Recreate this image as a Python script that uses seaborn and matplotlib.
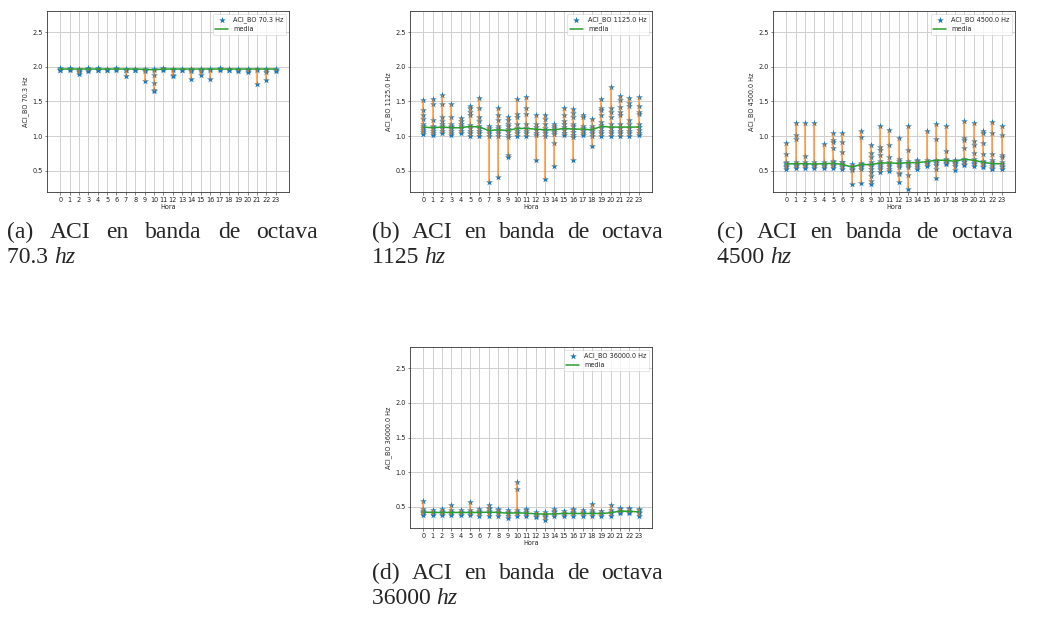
import matplotlib
matplotlib.use("Agg")
import matplotlib.pyplot as plt
import numpy as np
import pandas as pd
import seaborn as sns

# ---------------------------------------------------------------------------
# ACI per octave band, grouped by hour of day (one list of samples per hour)
# ---------------------------------------------------------------------------
hours = list(range(24))

aci_70 = [
    [1.95, 1.96, 1.97, 1.98], [1.96, 1.97, 1.98], [1.90, 1.92, 1.94, 1.96, 1.97],
    [1.94, 1.96, 1.97, 1.98], [1.95, 1.96, 1.97, 1.98], [1.95, 1.96, 1.97],
    [1.96, 1.97, 1.98], [1.87, 1.95, 1.96, 1.97], [1.95, 1.96, 1.97],
    [1.80, 1.94, 1.96, 1.97], [1.65, 1.67, 1.77, 1.89, 1.95, 1.97], [1.96, 1.97, 1.98],
    [1.87, 1.88, 1.95, 1.97], [1.95, 1.96, 1.97], [1.82, 1.94, 1.96, 1.97],
    [1.89, 1.94, 1.96, 1.97], [1.82, 1.95, 1.97], [1.96, 1.97, 1.98],
    [1.95, 1.96, 1.97], [1.94, 1.96, 1.97], [1.93, 1.95, 1.96, 1.97],
    [1.75, 1.95, 1.97], [1.81, 1.93, 1.95, 1.97], [1.94, 1.96, 1.97],
]
mean_70 = [1.97, 1.97, 1.97, 1.97, 1.97, 1.97, 1.97, 1.97, 1.97, 1.965, 1.96, 1.97,
           1.97, 1.97, 1.97, 1.97, 1.97, 1.97, 1.97, 1.97, 1.97, 1.97, 1.97, 1.97]

aci_1125 = [
    [1.03, 1.06, 1.09, 1.12, 1.15, 1.17, 1.24, 1.31, 1.37, 1.52],
    [1.02, 1.05, 1.08, 1.11, 1.13, 1.15, 1.23, 1.46, 1.53],
    [1.05, 1.08, 1.11, 1.14, 1.17, 1.22, 1.28, 1.46, 1.60],
    [1.02, 1.05, 1.08, 1.11, 1.13, 1.15, 1.18, 1.28, 1.47],
    [1.05, 1.08, 1.11, 1.14, 1.17, 1.22, 1.26],
    [1.00, 1.04, 1.08, 1.12, 1.16, 1.30, 1.35, 1.41, 1.44],
    [1.00, 1.04, 1.08, 1.12, 1.15, 1.22, 1.27, 1.40, 1.55],
    [0.34, 1.00, 1.04, 1.08, 1.12, 1.15],
    [0.41, 1.00, 1.04, 1.08, 1.12, 1.15, 1.23, 1.30, 1.41],
    [0.69, 0.73, 0.99, 1.02, 1.06, 1.10, 1.14, 1.18, 1.23, 1.28],
    [1.00, 1.04, 1.08, 1.12, 1.17, 1.27, 1.32, 1.53],
    [1.00, 1.04, 1.08, 1.12, 1.17, 1.32, 1.40, 1.56],
    [0.65, 1.02, 1.05, 1.09, 1.13, 1.17, 1.31],
    [0.38, 1.00, 1.04, 1.08, 1.12, 1.17, 1.25, 1.31],
    [0.57, 0.90, 1.03, 1.06, 1.09, 1.12, 1.15, 1.18],
    [1.02, 1.05, 1.09, 1.13, 1.17, 1.22, 1.30, 1.41],
    [0.65, 0.99, 1.02, 1.06, 1.10, 1.14, 1.17, 1.28, 1.33, 1.39],
    [1.02, 1.05, 1.08, 1.11, 1.15, 1.27, 1.30],
    [0.85, 1.00, 1.04, 1.08, 1.12, 1.15, 1.24],
    [1.00, 1.04, 1.08, 1.12, 1.16, 1.20, 1.30, 1.37, 1.41, 1.53],
    [1.00, 1.04, 1.08, 1.12, 1.17, 1.28, 1.35, 1.40, 1.71],
    [1.00, 1.04, 1.08, 1.12, 1.17, 1.30, 1.35, 1.42, 1.52, 1.58],
    [1.00, 1.04, 1.08, 1.12, 1.17, 1.23, 1.43, 1.48, 1.55],
    [1.02, 1.05, 1.09, 1.13, 1.17, 1.32, 1.35, 1.44, 1.57],
]
mean_1125 = [1.13, 1.12, 1.13, 1.12, 1.12, 1.14, 1.13, 1.08, 1.09, 1.08, 1.11, 1.11,
             1.10, 1.09, 1.09, 1.11, 1.10, 1.10, 1.09, 1.14, 1.13, 1.13, 1.13, 1.13]

aci_4500 = [
    [0.53, 0.55, 0.57, 0.59, 0.61, 0.62, 0.74, 0.90],
    [0.54, 0.56, 0.58, 0.60, 0.63, 0.95, 1.01, 1.19],
    [0.54, 0.56, 0.58, 0.60, 0.62, 0.71, 1.19],
    [0.54, 0.56, 0.58, 0.60, 0.62, 1.19],
    [0.54, 0.56, 0.58, 0.60, 0.62, 0.88],
    [0.54, 0.56, 0.58, 0.60, 0.62, 0.64, 0.83, 0.92, 0.94, 1.05],
    [0.53, 0.55, 0.57, 0.60, 0.62, 0.63, 0.77, 0.92, 1.04],
    [0.30, 0.51, 0.53, 0.55, 0.57, 0.59],
    [0.32, 0.53, 0.55, 0.57, 0.59, 0.61, 0.98, 1.08],
    [0.31, 0.35, 0.42, 0.48, 0.53, 0.56, 0.59, 0.62, 0.70, 0.75, 0.87],
    [0.48, 0.52, 0.55, 0.58, 0.61, 0.64, 0.72, 0.80, 0.84, 1.14],
    [0.50, 0.53, 0.56, 0.59, 0.62, 0.70, 0.87, 1.09],
    [0.33, 0.45, 0.47, 0.55, 0.58, 0.61, 0.64, 0.67, 0.97],
    [0.23, 0.44, 0.55, 0.58, 0.61, 0.64, 0.80, 1.15],
    [0.53, 0.55, 0.58, 0.61, 0.64, 0.66],
    [0.57, 0.59, 0.61, 0.63, 0.65, 1.07],
    [0.39, 0.53, 0.58, 0.61, 0.63, 0.66, 0.96, 1.17],
    [0.59, 0.61, 0.63, 0.65, 0.67, 0.78, 1.15],
    [0.51, 0.57, 0.59, 0.61, 0.63, 0.66],
    [0.58, 0.60, 0.62, 0.64, 0.67, 0.83, 0.94, 0.97, 1.22],
    [0.57, 0.59, 0.61, 0.64, 0.67, 0.76, 0.87, 0.93, 1.19],
    [0.55, 0.57, 0.59, 0.62, 0.64, 0.74, 0.90, 1.05, 1.07],
    [0.52, 0.54, 0.57, 0.60, 0.62, 0.65, 0.74, 1.05, 1.21],
    [0.53, 0.55, 0.57, 0.60, 0.62, 0.69, 0.73, 1.02, 1.15],
]
mean_4500 = [0.595, 0.60, 0.60, 0.595, 0.60, 0.605, 0.59, 0.55, 0.59, 0.585, 0.61, 0.61,
             0.605, 0.615, 0.615, 0.63, 0.65, 0.65, 0.635, 0.665, 0.65, 0.62, 0.60, 0.60]

aci_36000 = [
    [0.38, 0.40, 0.42, 0.44, 0.46, 0.58], [0.38, 0.40, 0.42, 0.45],
    [0.38, 0.40, 0.42, 0.44, 0.46], [0.38, 0.40, 0.42, 0.45, 0.52],
    [0.38, 0.40, 0.42, 0.45], [0.38, 0.40, 0.42, 0.45, 0.56],
    [0.37, 0.40, 0.42, 0.44, 0.46], [0.37, 0.40, 0.43, 0.46, 0.48, 0.53],
    [0.37, 0.40, 0.42, 0.45, 0.47], [0.34, 0.37, 0.40, 0.42, 0.45],
    [0.37, 0.40, 0.42, 0.45, 0.76, 0.855], [0.36, 0.39, 0.42, 0.45, 0.47],
    [0.35, 0.37, 0.39, 0.42], [0.30, 0.35, 0.37, 0.39, 0.42],
    [0.36, 0.39, 0.42, 0.44, 0.46], [0.36, 0.39, 0.41, 0.44],
    [0.37, 0.40, 0.42, 0.45, 0.47], [0.37, 0.40, 0.42, 0.45],
    [0.37, 0.40, 0.42, 0.45, 0.54], [0.37, 0.39, 0.41, 0.44],
    [0.37, 0.40, 0.42, 0.45, 0.53], [0.40, 0.42, 0.44, 0.46, 0.48],
    [0.40, 0.42, 0.44, 0.46, 0.48], [0.37, 0.40, 0.42, 0.45, 0.47],
]
mean_36000 = [0.42, 0.415, 0.415, 0.415, 0.415, 0.415, 0.415, 0.42, 0.415, 0.405, 0.41, 0.405,
              0.395, 0.39, 0.395, 0.40, 0.40, 0.40, 0.40, 0.40, 0.41, 0.435, 0.43, 0.425]

band_labels = ["ACI_BO 70.3 Hz", "ACI_BO 1125.0 Hz", "ACI_BO 4500.0 Hz", "ACI_BO 36000.0 Hz"]
caption_tags = ["(a)", "(b)", "(c)", "(d)"]
caption_freqs = ["70.3", "1125", "4500", "36000"]
y_ticks = [0.5, 1.0, 1.5, 2.0, 2.5]

# ---------------------------------------------------------------------------
# Styling
# ---------------------------------------------------------------------------
sns.set_theme(style="whitegrid")
plt.rcParams.update({
    "font.family": ["DejaVu Sans"],
    "axes.edgecolor": "#333333",
    "axes.linewidth": 0.6,
    "grid.color": "#cfcfcf",
    "grid.linewidth": 0.7,
    "xtick.bottom": True,
    "ytick.left": True,
    "xtick.major.size": 1.8,
    "ytick.major.size": 1.8,
    "xtick.major.width": 0.4,
    "ytick.major.width": 0.4,
    "xtick.major.pad": 1.5,
    "ytick.major.pad": 1.5,
    "xtick.color": "#222222",
    "ytick.color": "#222222",
})

BLUE, ORANGE, GREEN = "#1f77b4", "#ff7f0e", "#2ca02c"
FS = 4.7
W, H = 1048, 623

fig = plt.figure(figsize=(W / 100, H / 100), dpi=100)

# axes boxes in pixels: left, top, right, bottom
boxes = [(47, 11, 289, 192), (410, 11, 652, 192), (773, 11, 1015, 192), (410, 347, 652, 528)]
series = [aci_70, aci_1125, aci_4500, aci_36000]
means = [mean_70, mean_1125, mean_4500, mean_36000]

for (l, t, r, b), samples, mean, label in zip(boxes, series, means, band_labels):
    ax = fig.add_axes([l / W, 1 - b / H, (r - l) / W, (b - t) / H])
    df = pd.DataFrame({
        "Hora": [h for h, vals in zip(hours, samples) for _ in vals],
        "valor": [v for vals in samples for v in vals],
    })
    sns.scatterplot(data=df, x="Hora", y="valor", marker="*", s=26, color=BLUE,
                    linewidth=0, ax=ax, label=label, zorder=3)
    rng = df.groupby("Hora")["valor"].agg(["min", "max"])
    ax.vlines(rng.index, rng["min"], rng["max"], color=ORANGE, alpha=0.6,
              linewidth=1.5, zorder=4)
    sns.lineplot(x=hours, y=mean, color=GREEN, linewidth=1.1, ax=ax, label="media",
                 zorder=5)

    ax.set_xlim(-1.42, 24.42)
    ax.set_ylim(0.19, 2.81)
    ax.set_xticks(hours)
    ax.set_xticklabels([str(h) for h in hours], fontsize=FS)
    ax.set_yticks(y_ticks)
    ax.set_yticklabels([f"{v:.1f}" for v in y_ticks], fontsize=FS)
    ax.set_xlabel("Hora", fontsize=FS, labelpad=1.0)
    ax.set_ylabel(label, fontsize=FS, labelpad=2.5)
    ax.grid(True)
    for sp in ax.spines.values():
        sp.set_visible(True)
    leg = ax.legend(loc="upper right", fontsize=FS, frameon=True, fancybox=True,
                    scatterpoints=1, markerscale=1.0, borderaxespad=0.4)
    leg.get_frame().set_edgecolor("#d0d0d0")
    leg.get_frame().set_linewidth(0.5)

# ---------------------------------------------------------------------------
# Sub-captions (serif, justified first line, italic unit on second line)
# ---------------------------------------------------------------------------
renderer = fig.canvas.get_renderer()
CAP_FONT = "Liberation Serif"
CAP_SIZE = 17

def px_to_fig(x, y):
    return x / W, 1 - y / H

def justified_line(words, x0, x1, y):
    arts = [fig.text(0, 0, w, fontfamily=CAP_FONT, fontsize=CAP_SIZE, va="baseline")
            for w in words]
    widths = [a.get_window_extent(renderer).width for a in arts]
    gap = (x1 - x0 - sum(widths)) / (len(words) - 1)
    x = x0
    for a, wd in zip(arts, widths):
        a.set_position(px_to_fig(x, y))
        x += wd + gap

def unit_line(number, x0, y):
    t = fig.text(*px_to_fig(x0, y), number + " ", fontfamily=CAP_FONT,
                 fontsize=CAP_SIZE, va="baseline")
    wd = t.get_window_extent(renderer).width
    fig.text(*px_to_fig(x0 + wd, y), "hz", fontfamily=CAP_FONT, fontstyle="italic",
             fontsize=CAP_SIZE, va="baseline")

caption_boxes = [(7, 318, 238), (372, 663, 238), (717, 1013, 238), (372, 663, 579)]
for tag, freq, (x0, x1, y) in zip(caption_tags, caption_freqs, caption_boxes):
    justified_line([tag, "ACI", "en", "banda", "de", "octava"], x0, x1, y)
    unit_line(freq, x0, y + 25)

fig.savefig("out.png", dpi=100)
